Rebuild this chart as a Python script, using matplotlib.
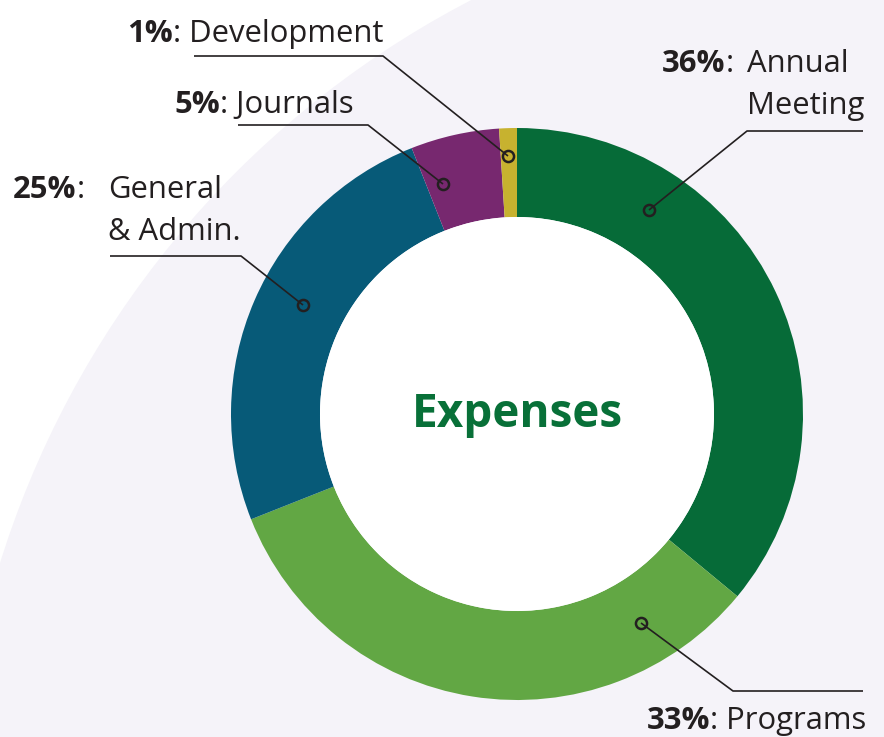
import matplotlib.pyplot as plt
import matplotlib.patches as mpatches

# ── DATA ────────────────────────────────────────────────────────────────────
CATEGORIES = ["Annual\nMeeting", "Programs", "General\n& Admin.", "Journals", "Development"]
PERCENTS = [36, 33, 25, 5, 1]
COLORS = ["#066b38", "#62a744", "#075a78", "#77286f", "#c7b22f"]
CENTER_TITLE = "Expenses"

# ── APPEARANCE ──────────────────────────────────────────────────────────────
W, H = 884, 737
BG_TINT = "#f5f3f9"
INK = "#231f20"
TITLE_GREEN = "#087038"
FONT = ["Open Sans", "DejaVu Sans"]
FS = 22.3

CX, CY = 517, 414          # donut centre (pixels, from top)
R_OUT, R_IN = 286, 197

# label layout: x of bold pct, baseline y of first line, x of wrapped text, leader pts
LAYOUT = {
    "Annual\nMeeting":  dict(x=662, y=72, tx=747, lead=[(863, 131), (747, 131), (649, 210)]),
    "Programs":         dict(x=647, y=729, tx=None, lead=[(863, 691), (733, 691), (641, 623)]),
    "General\n& Admin.": dict(x=13, y=198, tx=108, lead=[(110, 256), (241, 256), (303, 305)]),
    "Journals":         dict(x=174, y=113, tx=None, lead=[(238, 125), (368, 125), (443, 184)]),
    "Development":      dict(x=127, y=42, tx=None, lead=[(194, 56), (383, 56), (508, 156)]),
}
LINE_GAP = 42


def Y(y):
    return H - y


fig = plt.figure(figsize=(W / 100, H / 100), dpi=100)
fig.patch.set_facecolor("white")
ax = fig.add_axes([0, 0, 1, 1])

# big tinted backdrop circle
ax.add_patch(mpatches.Circle((910, Y(846)), 953, facecolor=BG_TINT, edgecolor="none", zorder=0))

ax.pie(
    PERCENTS, colors=COLORS, startangle=90, counterclock=False,
    center=(CX, Y(CY)), radius=R_OUT,
    wedgeprops=dict(width=R_OUT - R_IN, linewidth=0, antialiased=True),
)
ax.add_patch(mpatches.Circle((CX, Y(CY)), R_IN, facecolor="white", edgecolor="none", zorder=1))

ax.set_xlim(0, W)
ax.set_ylim(0, H)
ax.set_aspect("auto")
ax.axis("off")

ax.text(CX, Y(CY), CENTER_TITLE, ha="center", va="center", fontsize=33,
        fontweight="bold", color=TITLE_GREEN, family=FONT, zorder=5)

fig.canvas.draw()
renderer = fig.canvas.get_renderer()
inv = ax.transData.inverted()

for cat, pct in zip(CATEGORIES, PERCENTS):
    lay = LAYOUT[cat]
    lines = cat.split("\n")
    t = ax.text(lay["x"], Y(lay["y"]), f"{pct}%", ha="left", va="baseline",
                fontsize=FS, fontweight="bold", color=INK, family=FONT, zorder=6)
    bb = t.get_window_extent(renderer)
    x_end = inv.transform((bb.x1, bb.y0))[0]
    if lay["tx"] is None:
        ax.text(x_end, Y(lay["y"]), ": " + lines[0], ha="left", va="baseline",
                fontsize=FS, color=INK, family=FONT, zorder=6)
    else:
        ax.text(x_end, Y(lay["y"]), ":", ha="left", va="baseline",
                fontsize=FS, color=INK, family=FONT, zorder=6)
        for k, ln in enumerate(lines):
            ax.text(lay["tx"], Y(lay["y"] + k * LINE_GAP), ln, ha="left", va="baseline",
                    fontsize=FS, color=INK, family=FONT, zorder=6)

    pts = lay["lead"]
    ax.plot([p[0] for p in pts], [Y(p[1]) for p in pts], color=INK, lw=1.2,
            solid_capstyle="butt", zorder=6)
    ax.plot(pts[-1][0], Y(pts[-1][1]), marker="o", ms=8, mfc="none", mec=INK,
            mew=1.8, zorder=7)

fig.savefig("out.png", dpi=100, facecolor="white")
